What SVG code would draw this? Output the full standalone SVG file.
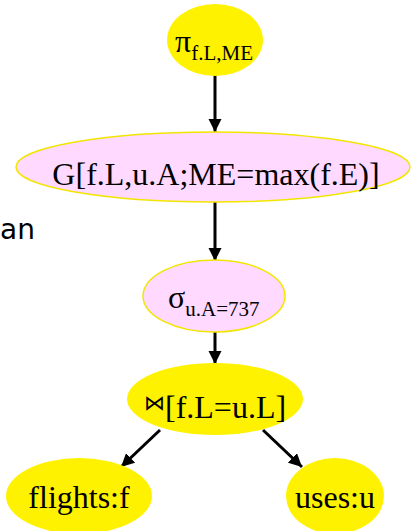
<svg xmlns="http://www.w3.org/2000/svg" width="413" height="531" viewBox="0 0 413 531">
  <style>
    .yel { fill: #FFF200; stroke: none; }
    .pink { fill: #FFD9FF; stroke: #F2E600; stroke-width: 1.5; }
    .lbl { font-family: "Liberation Serif", "Times New Roman", serif; font-size: 32px; fill: #000; }
    .sub { font-size: 21px; }
    .sym { font-family: "DejaVu Sans", sans-serif; font-size: 21px; }
    .edge { stroke: #000; stroke-width: 3; fill: none; marker-end: url(#head); }
  </style>
  <defs>
    <marker id="head" viewBox="0 0 10 10" refX="10" refY="5" markerWidth="4.4" markerHeight="4.4" orient="auto" markerUnits="strokeWidth">
      <path d="M0,0 L10,5 L0,10 Z" fill="#000"/>
    </marker>
  </defs>

  <text x="0" y="239" font-family="DejaVu Sans, sans-serif" font-size="28" fill="#000">an</text>

  <g id="connectors">
    <line class="edge" x1="215" y1="75" x2="215" y2="132"/>
    <line class="edge" x1="215" y1="202" x2="215" y2="261"/>
    <line class="edge" x1="215" y1="332" x2="215" y2="364"/>
    <line class="edge" x1="160" y1="430" x2="121" y2="467"/>
    <line class="edge" x1="263" y1="430" x2="302" y2="467"/>
  </g>

  <g id="project">
    <ellipse class="yel" cx="215" cy="40" rx="48" ry="36"/>
    <text class="lbl" x="175" y="52">π<tspan class="sub" dy="8">f.L,ME</tspan></text>
  </g>

  <g id="group">
    <ellipse class="pink" cx="213" cy="167" rx="197" ry="35"/>
    <text class="lbl" x="216" y="185" text-anchor="middle">G[f.L,u.A;ME=max(f.E)]</text>
  </g>

  <g id="select">
    <ellipse class="pink" cx="214" cy="296" rx="71" ry="36"/>
    <text class="lbl" x="168" y="308">σ<tspan class="sub" dy="8">u.A=737</tspan></text>
  </g>

  <g id="join">
    <ellipse class="yel" cx="215" cy="399" rx="88" ry="36"/>
    <text class="lbl" x="144" y="418"><tspan class="sym" dy="-8">⋈</tspan><tspan dy="8">[f.L=u.L]</tspan></text>
  </g>

  <g id="flights">
    <ellipse class="yel" cx="79" cy="496" rx="73" ry="38"/>
    <text class="lbl" x="79" y="508" text-anchor="middle">flights:f</text>
  </g>

  <g id="uses">
    <ellipse class="yel" cx="335" cy="496" rx="49" ry="38"/>
    <text class="lbl" x="335" y="508" text-anchor="middle">uses:u</text>
  </g>
</svg>
